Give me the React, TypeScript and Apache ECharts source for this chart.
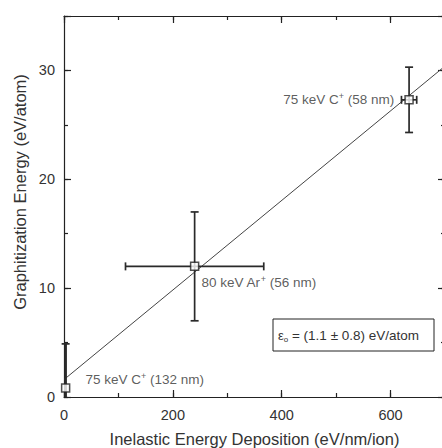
import React, { useEffect, useRef } from "react";
import * as echarts from "echarts";

// Data
const depositions = [3, 240, 634]; // eV/nm/ion
const energies = [0.83, 12, 27.3]; // eV/atom
const depositionErrors = [0, 127, 14];
const energyErrors = [4.05, 5, 3];
const pointLabels = [
  "75 keV C{s|+} (132 nm)",
  "80 keV Ar{s|+} (56 nm)",
  "75 keV C{s|+} (58 nm)",
];
const fitX = [0, 700];
const fitY = [1.6, 30.4];
const fitAnnotation = "{e|ε}{o|o} = (1.1 ± 0.8) eV/atom";
const xTitle = "Inelastic Energy Deposition (eV/nm/ion)";
const yTitle = "Graphitization Energy (eV/atom)";
const xRange = [0, 700];
const yRange = [0, 35];

const FONT = "'Liberation Sans', Arial, Helvetica, sans-serif";
const AXIS = "#222";
const TEXT = "#333";

export default function App() {
  const ref = useRef<HTMLDivElement>(null);

  useEffect(() => {
    if (!ref.current) return;
    const chart = echarts.init(ref.current, undefined, { renderer: "svg" });

    const lineStyle = { color: AXIS, width: 1.2 };
    const gridBox = { left: 64, top: 16, width: 381, height: 381 };

    const axis = (o: any) => ({
      type: "value",
      splitLine: { show: false },
      axisLine: { show: true, onZero: false, lineStyle },
      axisTick: { show: true, inside: true, length: 7, lineStyle },
      axisLabel: { show: false },
      ...o,
    });
    const minor = (o: any) =>
      axis({
        axisLine: { show: false, onZero: false },
        axisTick: { show: true, inside: true, length: 4, lineStyle },
        ...o,
      });

    const placements = [
      { position: "right", distance: 15, offset: [0, -8] },
      { position: "right", distance: 2, offset: [0, 16] },
      { position: "left", distance: 10, offset: [0, 0] },
    ];

    const richSup = {
      s: { fontSize: 9, fontFamily: FONT, color: TEXT, verticalAlign: "top", lineHeight: 16 },
    };

    const option: any = {
      animation: false,
      backgroundColor: "#fff",
      grid: [gridBox, gridBox, gridBox, gridBox],
      xAxis: [
        axis({
          gridIndex: 0,
          position: "bottom",
          min: xRange[0],
          max: xRange[1],
          interval: 200,
          axisLabel: {
            show: true,
            fontSize: 14.5,
            color: TEXT,
            fontFamily: FONT,
            margin: 10,
            formatter: (v: number) => (v % 200 === 0 && v < xRange[1] ? String(v) : ""),
          },
          name: xTitle,
          nameLocation: "middle",
          nameGap: 33,
          nameTextStyle: { fontSize: 16.5, color: TEXT, fontFamily: FONT },
        }),
        minor({ gridIndex: 1, position: "bottom", min: xRange[0], max: xRange[1], interval: 100 }),
        axis({ gridIndex: 2, position: "top", min: xRange[0], max: xRange[1], interval: 200 }),
        minor({ gridIndex: 3, position: "top", min: xRange[0], max: xRange[1], interval: 100 }),
      ],
      yAxis: [
        axis({
          gridIndex: 0,
          position: "left",
          min: yRange[0],
          max: yRange[1],
          interval: 10,
          axisLabel: {
            show: true,
            fontSize: 14.5,
            color: TEXT,
            fontFamily: FONT,
            margin: 9,
            formatter: (v: number) => (v % 10 === 0 ? String(v) : ""),
          },
        }),
        minor({ gridIndex: 1, position: "left", min: yRange[0], max: yRange[1], interval: 5 }),
        axis({ gridIndex: 2, position: "right", min: yRange[0], max: yRange[1], interval: 10 }),
        minor({ gridIndex: 3, position: "right", min: yRange[0], max: yRange[1], interval: 5 }),
      ],
      graphic: [
        {
          type: "rect",
          shape: { x: 273, y: 319, width: 161, height: 32 },
          style: { fill: "#fff", stroke: AXIS, lineWidth: 1 },
          z: 10,
        },
        {
          type: "text",
          x: 278,
          y: 335,
          z: 11,
          style: {
            text: fitAnnotation,
            fill: TEXT,
            fontSize: 13.5,
            fontFamily: FONT,
            verticalAlign: "middle",
            rich: {
              e: { fontSize: 13, fontFamily: FONT, fill: TEXT, lineHeight: 16 },
              o: { fontSize: 8, fontFamily: FONT, fill: TEXT, verticalAlign: "bottom", lineHeight: 16 },
            },
          },
        },
      ],
      series: [
        {
          type: "line",
          xAxisIndex: 0,
          yAxisIndex: 0,
          data: fitX.map((x, i) => [x, fitY[i]]),
          symbol: "none",
          lineStyle: { color: "#444", width: 1 },
          z: 1,
        },
        {
          type: "custom",
          xAxisIndex: 0,
          yAxisIndex: 0,
          data: depositions.map((x, i) => [x, energies[i], depositionErrors[i], energyErrors[i]]),
          renderItem: (params: any, api: any) => {
            const x = api.value(0);
            const y = api.value(1);
            const ex = api.value(2);
            const ey = api.value(3);
            const w = params.dataIndex === 0 ? 2.6 : 1.7;
            const style = { stroke: "#2a2a2a", lineWidth: w, fill: "none" };
            const capStyle = { stroke: "#2a2a2a", lineWidth: 1.7, fill: "none" };
            const cap = 4;
            const children: any[] = [];
            if (ey > 0) {
              const lo = Math.max(yRange[0], y - ey);
              const hi = y + ey;
              const a = api.coord([x, lo]);
              const b = api.coord([x, hi]);
              children.push({ type: "line", shape: { x1: a[0], y1: a[1], x2: b[0], y2: b[1] }, style });
              children.push({ type: "line", shape: { x1: b[0] - cap, y1: b[1], x2: b[0] + cap, y2: b[1] }, style: capStyle });
              if (lo > yRange[0]) {
                children.push({ type: "line", shape: { x1: a[0] - cap, y1: a[1], x2: a[0] + cap, y2: a[1] }, style: capStyle });
              }
            }
            if (ex > 0) {
              const a = api.coord([x - ex, y]);
              const b = api.coord([x + ex, y]);
              children.push({ type: "line", shape: { x1: a[0], y1: a[1], x2: b[0], y2: b[1] }, style });
              children.push({ type: "line", shape: { x1: a[0], y1: a[1] - cap, x2: a[0], y2: a[1] + cap }, style: capStyle });
              children.push({ type: "line", shape: { x1: b[0], y1: b[1] - cap, x2: b[0], y2: b[1] + cap }, style: capStyle });
            }
            return { type: "group", children };
          },
          z: 2,
        },
        {
          type: "scatter",
          xAxisIndex: 0,
          yAxisIndex: 0,
          symbol: "rect",
          symbolSize: 8,
          itemStyle: { color: "#fff", borderColor: "#222", borderWidth: 1.5 },
          data: depositions.map((x, i) => ({
            value: [x, energies[i]],
            label: {
              show: true,
              formatter: pointLabels[i],
              fontSize: 13.5,
              fontFamily: FONT,
              color: TEXT,
              lineHeight: 16,
              rich: richSup,
              ...placements[i],
            },
          })),
          z: 3,
        },
      ],
    };

    chart.setOption(option);
    return () => chart.dispose();
  }, []);

  return (
    <div style={{ position: "fixed", left: 0, top: 0, width: 480, height: 480, background: "#fff" }}>
      <div ref={ref} style={{ position: "absolute", left: 0, top: 0, width: 480, height: 480 }} />
      <div
        style={{
          position: "absolute",
          left: 20,
          top: 192,
          transform: "translate(-50%, -50%) rotate(-90deg)",
          whiteSpace: "nowrap",
          fontFamily: FONT,
          fontSize: 16.5,
          lineHeight: "19px",
          color: TEXT,
          pointerEvents: "none",
        }}
      >
        {yTitle}
      </div>
    </div>
  );
}
